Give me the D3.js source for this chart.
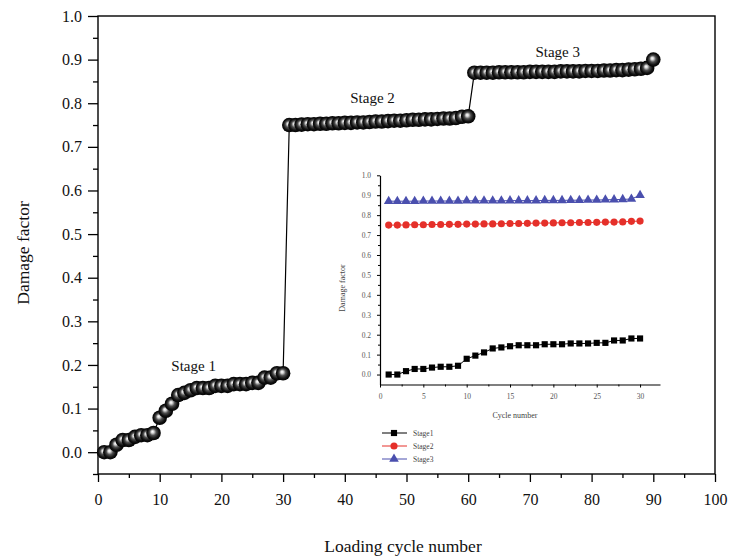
<!DOCTYPE html>
<html><head><meta charset="utf-8">
<script src="https://cdn.jsdelivr.net/npm/d3@7"></script>
<style>
body{margin:0;background:#fff;}
svg{display:block;font-family:"Liberation Serif","DejaVu Serif",serif;}
</style></head>
<body><svg id="c" width="729" height="558"></svg>
<script>
// ---- data ----
const cycles = d3.range(1, 31); // cycle numbers within each stage
const stage1 = [0.000,0.000,0.017,0.028,0.028,0.035,0.039,0.039,0.044,0.079,0.095,0.111,0.131,0.136,0.142,0.147,0.147,0.147,0.152,0.152,0.152,0.156,0.156,0.156,0.159,0.159,0.171,0.171,0.181,0.181];
const stage2 = [0.750,0.750,0.751,0.752,0.752,0.753,0.753,0.754,0.754,0.755,0.755,0.756,0.756,0.757,0.758,0.758,0.759,0.760,0.760,0.761,0.762,0.762,0.763,0.763,0.764,0.765,0.765,0.766,0.769,0.770];
const stage3 = [0.870,0.870,0.870,0.870,0.871,0.871,0.871,0.871,0.871,0.872,0.872,0.872,0.872,0.872,0.873,0.873,0.873,0.873,0.874,0.874,0.874,0.875,0.875,0.876,0.876,0.877,0.878,0.879,0.881,0.900];
const stageNames = ["Stage1","Stage2","Stage3"];
const stageLabels = ["Stage 1","Stage 2","Stage 3"];
const mainXTicks = [0,10,20,30,40,50,60,70,80,90,100];
const mainYTicks = [0.0,0.1,0.2,0.3,0.4,0.5,0.6,0.7,0.8,0.9,1.0];
const insetXTicks = [0,5,10,15,20,25,30];

const svg = d3.select("#c");
const allStages = [stage1, stage2, stage3];
const mainData = [];
allStages.forEach((s, k) => s.forEach((v, i) => mainData.push({x: cycles[i] + 30 * k, y: v})));

// ---- main chart ----
const x = d3.scaleLinear().domain([0, 100]).range([98, 715]);
const y = d3.scaleLinear().domain([-0.05, 1.0]).range([474, 16]);

const defs = svg.append("defs");
const g = defs.append("radialGradient").attr("id", "ball").attr("cx", "50%").attr("cy", "50%").attr("r", "50%").attr("fx", "42%").attr("fy", "40%");
[[0, "#ffffff"], [0.18, "#d8d8d8"], [0.45, "#505050"], [0.75, "#141414"], [1, "#000"]].forEach(s => g.append("stop").attr("offset", s[0]).attr("stop-color", s[1]));

const axisStyle = sel => { sel.select(".domain").remove(); sel.selectAll("line").attr("stroke", "#000").attr("stroke-width", 1.3); sel.selectAll("text").attr("fill", "#111").style("font-size", "16px").attr("font-family", "Liberation Serif, serif"); };

svg.append("g").attr("transform", "translate(0,474)")
  .call(d3.axisBottom(x).tickValues(mainXTicks).tickSize(8).tickPadding(12).tickFormat(d3.format("d"))).call(axisStyle);
svg.append("g").attr("transform", "translate(0,474)")
  .call(d3.axisBottom(x).tickValues(d3.range(5, 100, 10)).tickSize(4).tickFormat("")).call(axisStyle);
svg.append("g").attr("transform", "translate(98,0)")
  .call(d3.axisLeft(y).tickValues(mainYTicks).tickSize(10).tickPadding(6).tickFormat(d3.format(".1f"))).call(axisStyle);
svg.append("g").attr("transform", "translate(98,0)")
  .call(d3.axisLeft(y).tickValues(d3.range(-0.05, 1.0, 0.1).map(v => +v.toFixed(2))).tickSize(5).tickFormat("")).call(axisStyle);

// frame
svg.append("rect").attr("x", x(0)).attr("y", y(1.0)).attr("width", x(100) - x(0)).attr("height", y(-0.05) - y(1.0))
  .attr("fill", "none").attr("stroke", "#000").attr("stroke-width", 1.4);

svg.append("text").attr("x", 403).attr("y", 552).attr("text-anchor", "middle").style("font-size", "17.5px").attr("fill", "#111").text("Loading cycle number");
svg.append("text").attr("transform", "translate(29,253) rotate(-90)").attr("text-anchor", "middle").style("font-size", "17.5px").attr("fill", "#111").text("Damage factor");

svg.append("path").datum(mainData).attr("fill", "none").attr("stroke", "#000").attr("stroke-width", 1.2)
  .attr("d", d3.line().x(d => x(d.x)).y(d => y(d.y)));
svg.append("g").selectAll("circle").data(mainData).join("circle")
  .attr("cx", d => x(d.x)).attr("cy", d => y(d.y)).attr("r", 7.3).attr("fill", "url(#ball)");

const labelPos = [[15.5, 0.185, 195], [44.5, 0.80, 370], [74.5, 0.905, 557]];
labelPos.forEach((p, k) => svg.append("text").attr("x", x(p[0])).attr("y", y(p[1])).attr("text-anchor", "middle")
  .style("font-size", "15px").attr("fill", "#111").text(stageLabels[k]));

// ---- inset ----
const ix = d3.scaleLinear().domain([0, 32.3]).range([380, 660]);
const iy = d3.scaleLinear().domain([-0.05, 1.0]).range([384.5, 175.3]);
const insetStyle = sel => { sel.select(".domain").attr("stroke", "#000").attr("stroke-width", 1.2); sel.selectAll("line").attr("stroke", "#000").attr("stroke-width", 1); sel.selectAll("text").attr("fill", "#555").style("font-size", "7.5px").attr("font-family", "Liberation Serif, serif"); };

svg.append("g").attr("transform", "translate(0,384.5)")
  .call(d3.axisBottom(ix).tickValues(insetXTicks).tickSize(3).tickPadding(6).tickSizeOuter(0).tickFormat(d3.format("d"))).call(insetStyle);
svg.append("g").attr("transform", "translate(0,384.5)")
  .call(d3.axisBottom(ix).tickValues(d3.range(2.5, 32, 5)).tickSize(2).tickSizeOuter(0).tickFormat("")).call(insetStyle).call(s => s.select(".domain").remove());
svg.append("g").attr("transform", "translate(380,0)")
  .call(d3.axisLeft(iy).tickValues(mainYTicks).tickSize(3).tickPadding(6).tickSizeOuter(0).tickFormat(d3.format(".1f"))).call(insetStyle);
svg.append("g").attr("transform", "translate(380,0)")
  .call(d3.axisLeft(iy).tickValues(d3.range(0.05, 1.0, 0.1).map(v => +v.toFixed(2))).tickSize(2).tickFormat("")).call(insetStyle).call(s => s.select(".domain").remove());

svg.append("text").attr("x", 515).attr("y", 418).attr("text-anchor", "middle").style("font-size", "8px").attr("fill", "#444").text("Cycle number");
svg.append("text").attr("transform", "translate(345,288) rotate(-90)").attr("text-anchor", "middle").style("font-size", "8px").attr("fill", "#444").text("Damage factor");

const colors = ["#000000", "#e5302a", "#4a4fae"];
const symbols = [d3.symbolSquare, d3.symbolCircle, d3.symbolTriangle];
const symSizes = [38, 40, 40];
allStages.forEach((s, k) => {
  const pts = s.map((v, i) => ({x: cycles[i], y: v}));
  svg.append("path").datum(pts).attr("fill", "none").attr("stroke", colors[k]).attr("stroke-width", 1)
    .attr("d", d3.line().x(d => ix(d.x)).y(d => iy(d.y)));
  svg.append("g").selectAll("path").data(pts).join("path")
    .attr("transform", d => `translate(${ix(d.x)},${iy(d.y)})`)
    .attr("d", d3.symbol().type(symbols[k]).size(symSizes[k])).attr("fill", colors[k]);
});

// legend
const legY = [433, 446, 459];
stageNames.forEach((n, k) => {
  svg.append("line").attr("x1", 382).attr("x2", 407).attr("y1", legY[k]).attr("y2", legY[k]).attr("stroke", colors[k]).attr("stroke-width", 1);
  svg.append("path").attr("transform", `translate(394,${legY[k]})`).attr("d", d3.symbol().type(symbols[k]).size(symSizes[k])).attr("fill", colors[k]);
  svg.append("text").attr("x", 413).attr("y", legY[k] + 2.6).style("font-size", "7.5px").attr("fill", "#444").text(n);
});
</script></body></html>
